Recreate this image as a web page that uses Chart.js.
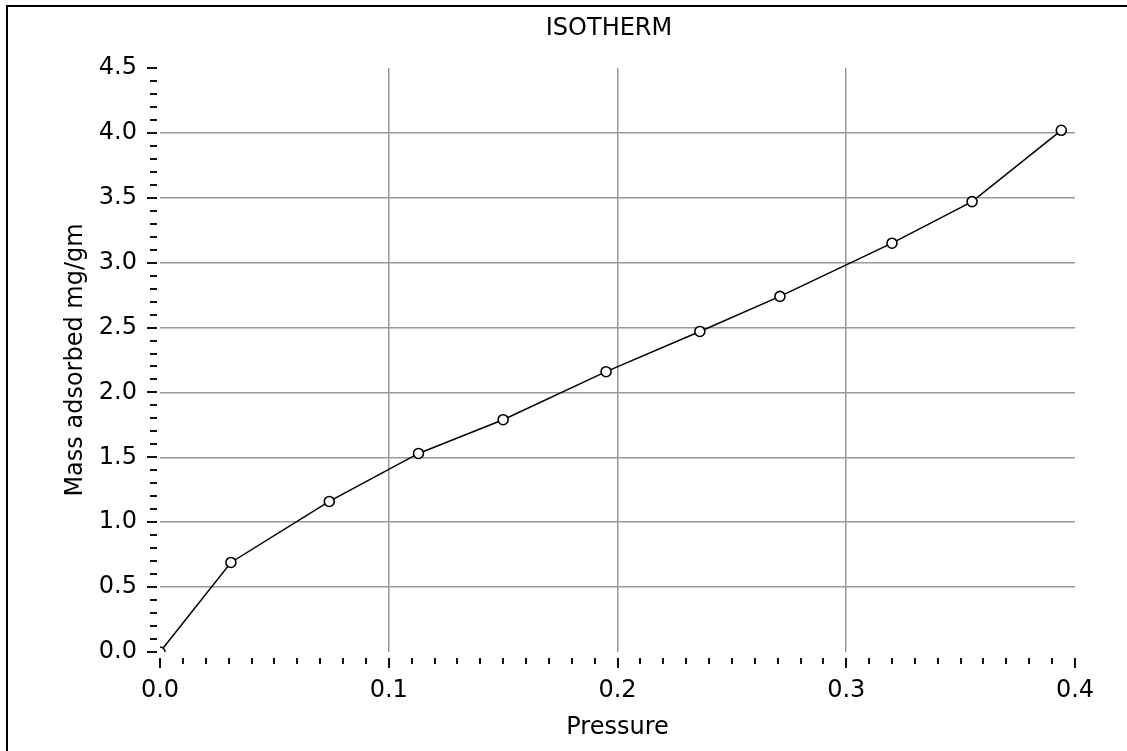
<!DOCTYPE html>
<html>
<head>
<meta charset="utf-8">
<title>ISOTHERM</title>
<script src="https://cdn.jsdelivr.net/npm/chart.js@4"></script>
<style>
  body { margin: 0; background: #fff; }
</style>
</head>
<body>
<canvas id="isoChart" width="1127" height="751"></canvas>
<script>
// isotherm data
let pressure = [0, 0.031, 0.074, 0.113, 0.150, 0.195, 0.236, 0.271, 0.320, 0.355, 0.394];
let massAdsorbed = [0, 0.69, 1.16, 1.53, 1.79, 2.16, 2.47, 2.74, 3.15, 3.47, 4.02];
let xTicks = [0, 0.1, 0.2, 0.3, 0.4];
let yTicks = [0, 0.5, 1.0, 1.5, 2.0, 2.5, 3.0, 3.5, 4.0, 4.5];

let points = pressure.map((p, i) => ({ x: p, y: massAdsorbed[i] }));

let fontFamily = "'DejaVu Sans', Verdana, sans-serif";
let gridGray = "#999999";

// hide grid line on first / last tick
function gridColor(ticks) {
  return (ctx) => {
    let v = ctx.tick ? ctx.tick.value : null;
    if (v === null) return gridGray;
    if (Math.abs(v - ticks[0]) < 1e-9 || Math.abs(v - ticks[ticks.length - 1]) < 1e-9) return "rgba(0,0,0,0)";
    return gridGray;
  };
}

// frame + major/minor tick marks, title centred over plot
let framePlugin = {
  id: "frame",
  afterLayout(chart) {
    let tb = chart.titleBlock;
    if (tb) {
      tb.left = chart.chartArea.left - 17;
      tb.right = chart.chartArea.right;
      tb.width = tb.right - tb.left;
    }
  },
  beforeDraw(chart) {
    let c = chart.ctx;
    c.save();
    c.fillStyle = "#fff";
    c.fillRect(0, 0, chart.width, chart.height);
    c.fillStyle = "#000";
    c.fillRect(6, 5, chart.width - 6, 2);
    c.fillRect(6, 5, 2, chart.height - 5);
    c.restore();
  },
  afterDraw(chart) {
    let c = chart.ctx;
    let area = chart.chartArea;
    let xs = chart.scales.x;
    let ys = chart.scales.y;
    c.save();
    c.fillStyle = "#111";
    // x: step 0.01
    let xMin = xTicks[0], xMax = xTicks[xTicks.length - 1];
    let nx = Math.round((xMax - xMin) / 0.01);
    for (let i = 0; i <= nx; i++) {
      let px = Math.round(xs.getPixelForValue(xMin + i * 0.01));
      let major = i % 10 === 0;
      c.fillRect(px - 1, area.bottom + 6, 2, major ? 10 : 6);
    }
    // y: step 0.1
    let yMin = yTicks[0], yMax = yTicks[yTicks.length - 1];
    let ny = Math.round((yMax - yMin) / 0.1);
    for (let i = 0; i <= ny; i++) {
      let py = Math.round(ys.getPixelForValue(yMin + i * 0.1));
      let major = i % 5 === 0;
      let len = major ? 10 : 7;
      c.fillRect(area.left - 3 - len, py - 1, len, 2);
    }
    c.restore();
  },
};

let isoChart = new Chart(document.getElementById("isoChart"), {
  type: "line",
  data: {
    datasets: [
      {
        label: "Isotherm",
        data: points,
        borderColor: "#000",
        borderWidth: 1.5,
        tension: 0,
        fill: false,
        pointStyle: "circle",
        pointRadius: 5,
        pointBorderWidth: 1.6,
        pointBorderColor: "#000",
        pointBackgroundColor: "#fff",
      },
    ],
  },
  options: {
    responsive: false,
    animation: false,
    layout: {
      padding: { left: 0, right: 52, top: 0, bottom: 0 },
    },
    plugins: {
      legend: { display: false },
      tooltip: { enabled: false },
      title: {
        display: true,
        text: "ISOTHERM",
        color: "#000",
        font: { family: fontFamily, size: 24, weight: "normal" },
        padding: { top: 14, bottom: 25.2 },
      },
    },
    scales: {
      x: {
        type: "linear",
        min: xTicks[0],
        max: xTicks[xTicks.length - 1],
        afterBuildTicks: (scale) => {
          scale.ticks = xTicks.map((v) => ({ value: v }));
        },
        afterFit: (scale) => {
          scale.height = 99;
        },
        border: { display: false },
        grid: { color: gridColor(xTicks), lineWidth: 1.5, drawTicks: false },
        ticks: {
          color: "#000",
          padding: 24,
          font: { family: fontFamily, size: 24 },
          callback: (v) => Number(v).toFixed(1),
        },
        title: {
          display: true,
          text: "Pressure",
          color: "#000",
          font: { family: fontFamily, size: 24 },
          padding: { top: 0, bottom: 9 },
        },
      },
      y: {
        type: "linear",
        min: yTicks[0],
        max: yTicks[yTicks.length - 1],
        afterBuildTicks: (scale) => {
          scale.ticks = yTicks.map((v) => ({ value: v }));
        },
        afterFit: (scale) => {
          scale.width = 160;
        },
        border: { display: false },
        grid: { color: gridColor(yTicks), lineWidth: 1.5, drawTicks: false },
        ticks: {
          color: "#000",
          padding: 23,
          font: { family: fontFamily, size: 24 },
          callback: (v) => Number(v).toFixed(1),
        },
        title: {
          display: true,
          text: "Mass adsorbed mg/gm",
          color: "#000",
          font: { family: fontFamily, size: 24 },
          padding: { top: 61, bottom: 0 },
        },
      },
    },
  },
  plugins: [framePlugin],
});
</script>
</body>
</html>
